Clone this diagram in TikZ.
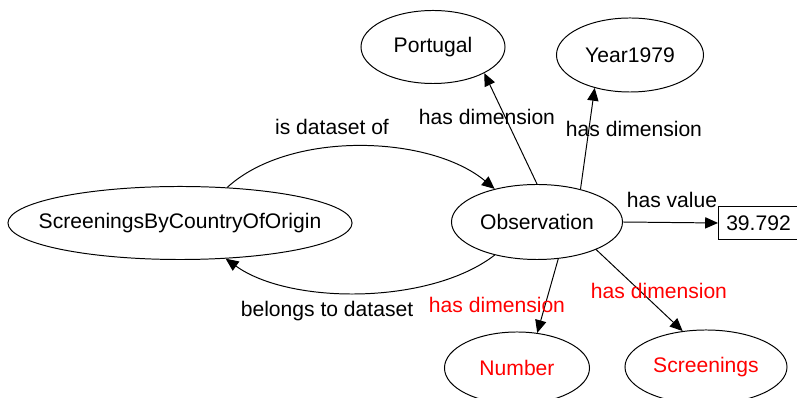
\documentclass[tikz,border=0pt]{standalone}
\usepackage{fontspec}
\setmainfont{Liberation Sans}
\usepackage{tikz}
\usetikzlibrary{shapes.geometric, arrows.meta, positioning}

\begin{document}
\begin{tikzpicture}[
  x = 0.025cm, y = -0.025cm,
  font          = \fontsize{15}{18}\selectfont,
  concept/.style = {ellipse, draw=black, line width=0.7pt, inner sep=0pt},
  literal/.style = {rectangle, draw=black, line width=0.7pt, inner sep=0pt,
                    minimum width=2.1cm, minimum height=0.8cm},
  arrow/.style   = {-{Triangle[length=0.32cm, width=0.28cm]}, line width=0.7pt},
  lbl/.style     = {anchor=base, inner sep=0pt},
  code/.style    = {text=red},
]
  \useasboundingbox (0,0) rectangle (797,398);

  \node[concept, inner xsep=-0.49cm, minimum height=1.825cm] (dataset) at (180,223) {ScreeningsByCountryOfOrigin};
  \node[concept, minimum width=4.275cm, minimum height=1.875cm] (obs)     at (537,222) {Observation};
  \node[concept, minimum width=3.6cm,   minimum height=1.825cm] (portugal) at (433,47) {Portugal};
  \node[concept, minimum width=3.675cm, minimum height=1.85cm]  (year)    at (630,55)  {Year1979};
  \node[concept, code, minimum width=3.625cm, minimum height=1.8cm]  (number)     at (517,368) {Number};
  \node[concept, code, minimum width=4.05cm,  minimum height=1.85cm] (screenings) at (706,367) {Screenings};
  \node[literal, anchor=west] (value) at (718,223) {\hspace*{-0.1cm}39.792};

  \draw[arrow] (dataset.37) .. controls (290,130) and (430,135) .. (obs.142);
  \draw[arrow] (obs.218) .. controls (430,305) and (290,305) .. (dataset.-38);
  \draw[arrow] (obs.90)  -- (portugal.-27);
  \draw[arrow] (obs.37)  -- (year.223);
  \draw[arrow] (obs.east) -- (value.west);
  \draw[arrow] (obs.-60) -- (number.60);
  \draw[arrow] (obs.-25) -- (screenings.123);

  \node[lbl] (isds)    at (332,135) {is dataset of};
  \node[lbl] (belongs) at (327,317) {belongs to dataset};
  \node[lbl] (dimport) at (487,125) {has dimension};
  \node[lbl] (dimyear) at (634,137) {has dimension};
  \node[lbl] (hasval)  at (672,208) {has value};
  \node[lbl, code] (dimnum)  at (497,313) {has dimension};
  \node[lbl, code] (dimscr)  at (659,299) {has dimension};
\end{tikzpicture}
\end{document}
